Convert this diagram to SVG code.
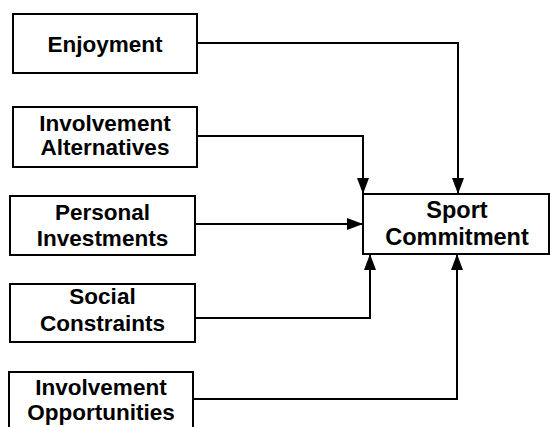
<svg xmlns="http://www.w3.org/2000/svg" width="550" height="427" viewBox="0 0 550 427">
<style>
.box{fill:#fff;stroke:#000;stroke-width:2}
.t{font-family:"Liberation Sans",Arial,sans-serif;font-weight:bold;font-size:22.5px;text-anchor:middle;fill:#000}
.big{font-size:23.5px}
.c{fill:none;stroke:#000;stroke-width:2}
</style>
<defs>
<marker id="ah" viewBox="0 0 16 12" refX="16" refY="6" markerWidth="16" markerHeight="12" markerUnits="userSpaceOnUse" orient="auto">
<path d="M0,0 L16,6 L0,12 Z" fill="#000"/>
</marker>
</defs>
<rect width="550" height="427" fill="#fff"/>
<g id="enjoyment">
<rect class="box" x="13" y="14" width="184" height="59"/>
<text class="t" x="105" y="52">Enjoyment</text>
</g>
<g id="alternatives">
<rect class="box" x="13" y="107" width="184" height="60"/>
<text class="t" x="105" y="131">Involvement</text>
<text class="t" x="105" y="155">Alternatives</text>
</g>
<g id="personal">
<rect class="box" x="10" y="196" width="185" height="59"/>
<text class="t" x="102.5" y="220">Personal</text>
<text class="t" x="102.5" y="246">Investments</text>
</g>
<g id="social">
<rect class="box" x="10" y="284" width="185" height="58"/>
<text class="t" x="102.5" y="304">Social</text>
<text class="t" x="102.5" y="331">Constraints</text>
</g>
<g id="opportunities">
<rect class="box" x="9" y="372" width="184" height="70"/>
<text class="t" x="101" y="395">Involvement</text>
<text class="t" x="101" y="420">Opportunities</text>
</g>
<g id="commitment">
<rect class="box" x="363" y="194" width="186" height="60"/>
<text class="t big" x="457" y="218">Sport</text>
<text class="t big" x="457" y="245">Commitment</text>
</g>
<g id="connectors">
<path class="c" d="M197,43 H458 V194" marker-end="url(#ah)"/>
<path class="c" d="M197,136 H363 V194" marker-end="url(#ah)"/>
<path class="c" d="M195,224 H363" marker-end="url(#ah)"/>
<path class="c" d="M195,318 H370 V254" marker-end="url(#ah)"/>
<path class="c" d="M193,399 H457 V254" marker-end="url(#ah)"/>
</g>
</svg>
